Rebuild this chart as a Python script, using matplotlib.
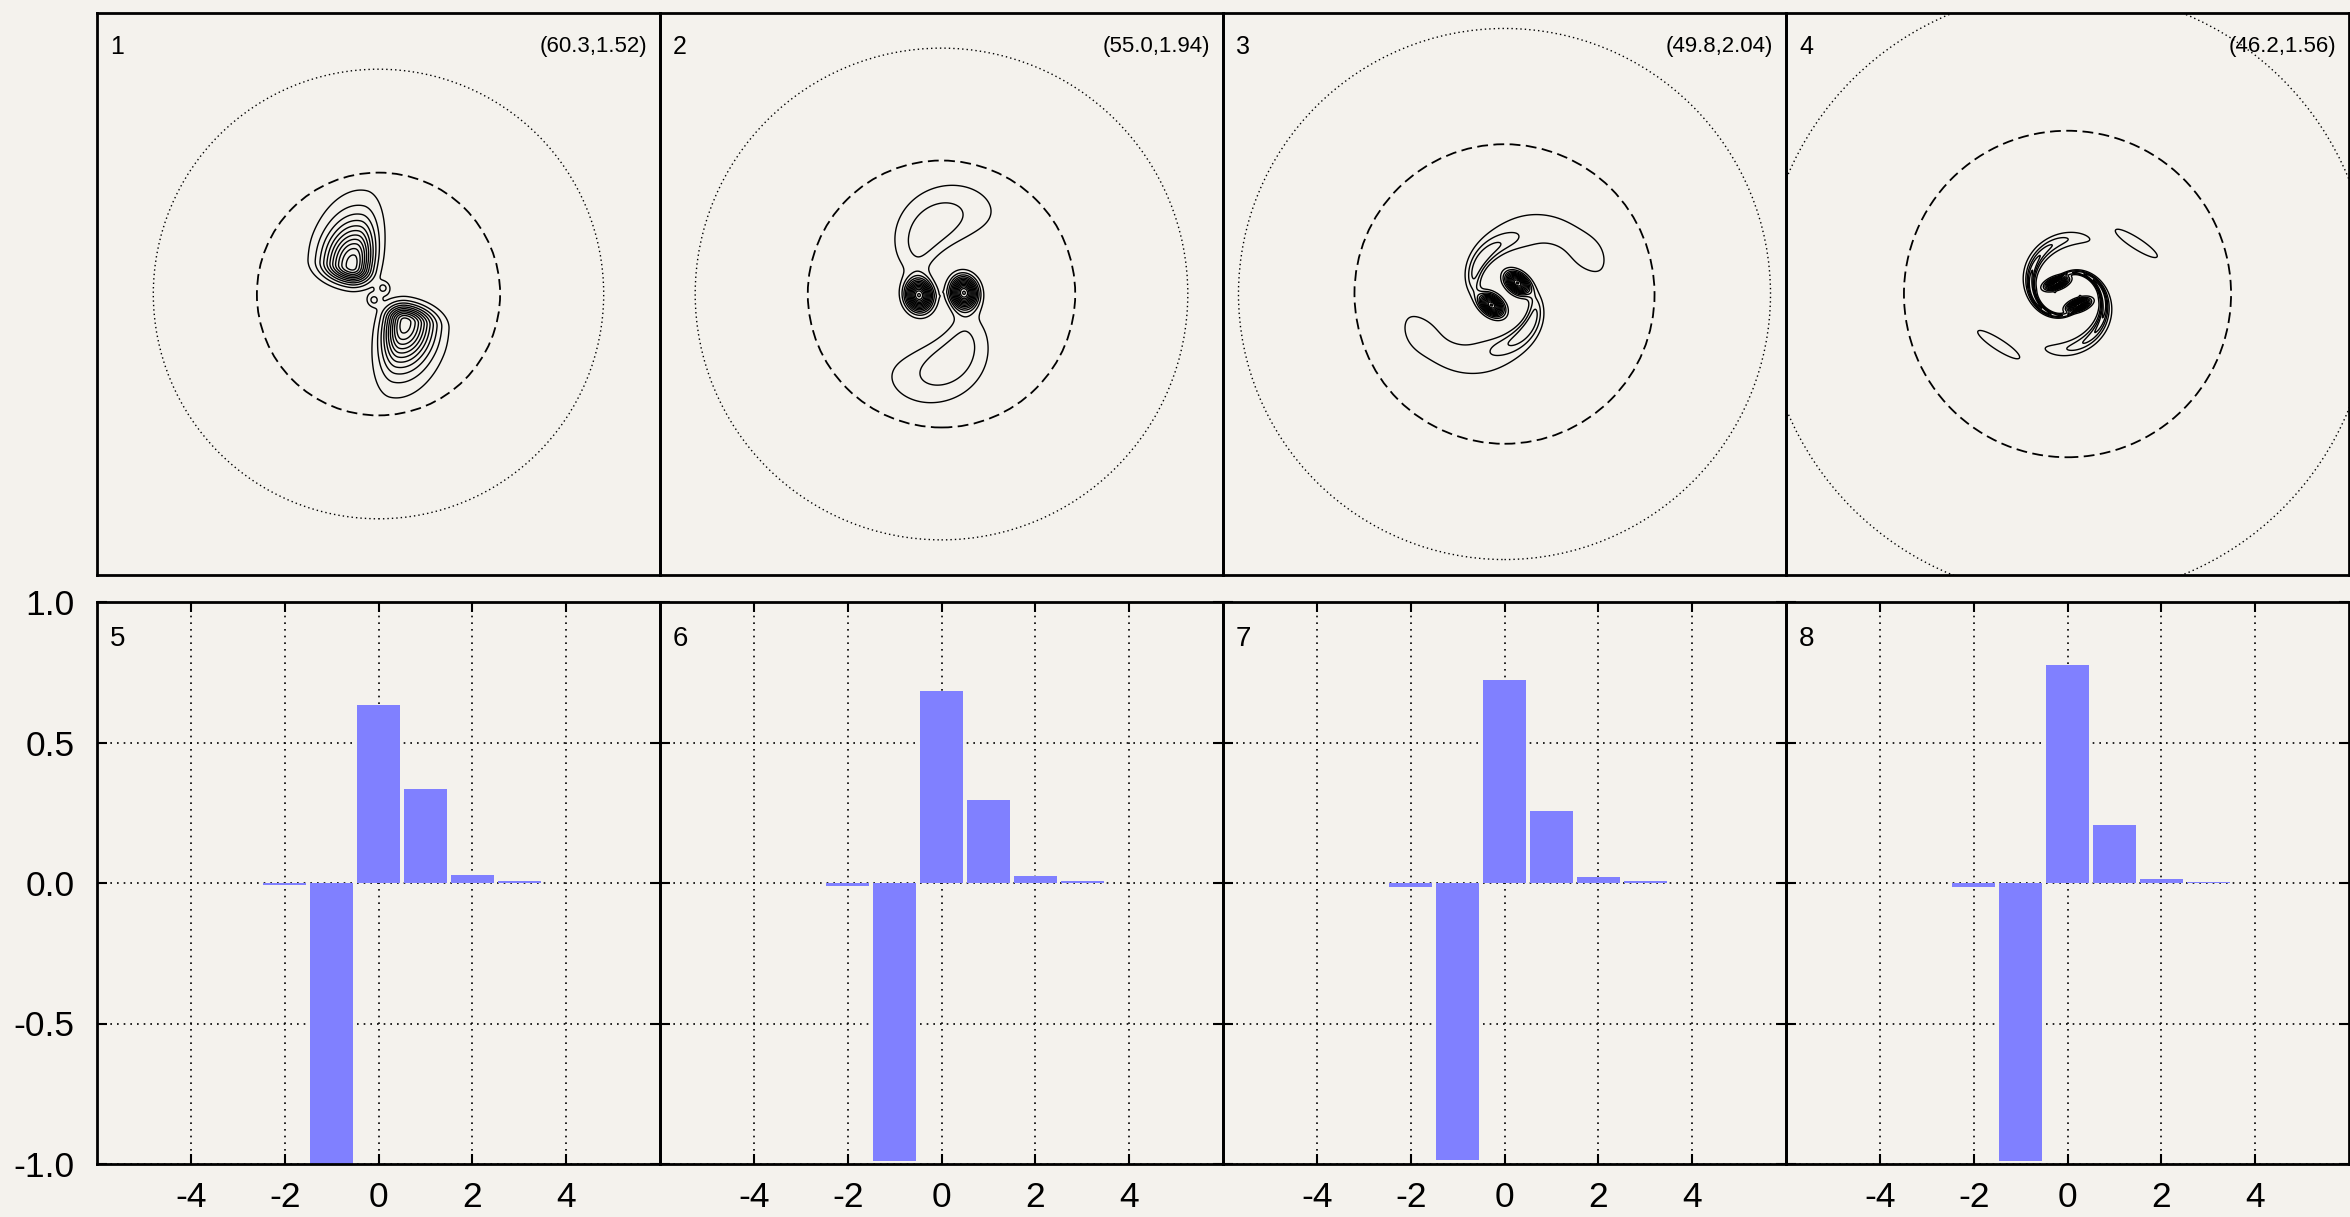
import numpy as np
import matplotlib
matplotlib.use("Agg")
import matplotlib.pyplot as plt
from matplotlib.patches import Circle

plt.rcParams['font.family'] = ['Liberation Sans', 'DejaVu Sans']
plt.rcParams['axes.unicode_minus'] = False

PAPER = '#f4f2ed'
BAR_BLUE = '#8080ff'

# ---- top row: vortex snapshots ----
frame_ids = ['1', '2', '3', '4']
frame_tags = ['(60.3,1.52)', '(55.0,1.94)', '(49.8,2.04)', '(46.2,1.56)']
# circle radii in panel units (panel half-width = 1)
outer_radius = [0.80, 0.875, 0.945, 1.08]
inner_radius = [0.432, 0.475, 0.533, 0.581]

# blobs: amp, x0, y0, s_right, s_left, s_up, s_down, angle(deg)
# every blob and arm also gets a copy rotated by 180 deg
blobs = [
    [(10.5, -0.093, 0.096, 0.045, 0.068, 0.100, 0.038, -10),
     (1.6, -0.090, 0.180, 0.070, 0.100, 0.160, 0.090, -15),
     (2.1, -0.017, -0.021, 0.017, 0.017, 0.017, 0.017, 0)],
    [(14.0, -0.080, -0.005, 0.030, 0.030, 0.036, 0.036, 10)],
    [(13.0, -0.046, -0.039, 0.030, 0.030, 0.020, 0.020, -40),
     (0.7, -0.290, -0.140, 0.045, 0.045, 0.045, 0.045, 0)],
    [(12.0, 0.039, -0.039, 0.026, 0.026, 0.012, 0.012, 20),
     (1.6, -0.245, -0.180, 0.090, 0.090, 0.020, 0.020, -33)],
]
# spiral arms: amp, r0, theta0(deg), sr_in, sr_out, s_theta(deg), winding(deg per e-fold)
arms = [
    [],
    [(2.9, 0.23, 100, 0.090, 0.110, 24, 40)],
    [(3.6, 0.14, 309, 0.030, 0.045, 22, 112),
     (1.7, 0.28, 236, 0.080, 0.075, 22, 112)],
    [(4.5, 0.115, 193, 0.035, 0.035, 11, 166),
     (2.7, 0.170, 123, 0.040, 0.035, 24, 166)],
]
contour_levels = np.arange(1, 16)

# ---- bottom row: mode weights ----
bar_ids = ['5', '6', '7', '8']
modes = [-2, -1, 0, 1, 2, 3]
weights = [
    [-0.008, -1.000, 0.634, 0.336, 0.027, 0.006],
    [-0.009, -0.988, 0.685, 0.294, 0.025, 0.007],
    [-0.013, -0.986, 0.723, 0.256, 0.021, 0.007],
    [-0.014, -0.990, 0.775, 0.207, 0.016, 0.002],
]
x_ticks = [-4, -2, 0, 2, 4]
y_ticks = [-1.0, -0.5, 0.0, 0.5, 1.0]


def half_field(X, Y, blob_list, arm_list):
    Z = np.zeros_like(X)
    for amp, x0, y0, sr, sl, su, sd, ang in blob_list:
        a = np.radians(ang)
        dx = X - x0
        dy = Y - y0
        u = dx * np.cos(a) + dy * np.sin(a)
        v = -dx * np.sin(a) + dy * np.cos(a)
        su_ = np.where(u > 0, sr, sl)
        sv_ = np.where(v > 0, su, sd)
        Z += amp * np.exp(-0.5 * ((u / su_) ** 2 + (v / sv_) ** 2))
    R = np.hypot(X, Y)
    Rs = np.maximum(R, 1e-4)
    T = np.degrees(np.arctan2(Y, X))
    for amp, r0, th0, sr_in, sr_out, sth, wind in arm_list:
        sr = np.where(R < r0, sr_in, sr_out)
        radial = np.exp(-0.5 * ((R - r0) / sr) ** 2)
        tc = th0 - wind * np.log(Rs / r0)
        d = (T - tc + 180) % 360 - 180
        Z += amp * radial * np.exp(-0.5 * (d / sth) ** 2)
    return Z


def panel_field(X, Y, blob_list, arm_list):
    # two-fold symmetric pattern
    return half_field(X, Y, blob_list, arm_list) + half_field(-X, -Y, blob_list, arm_list)


fig = plt.figure(figsize=(23.5, 12.17), dpi=100, facecolor=PAPER)

W = 563 / 2350
H = 562 / 1217
left0 = 97 / 2350
top_bottom = 1 - 575 / 1217
bot_bottom = 1 - 1164 / 1217

g = np.linspace(-0.5, 0.5, 800)
GX, GY = np.meshgrid(g, g)

for i in range(4):
    ax = fig.add_axes([left0 + i * W, top_bottom, W, H])
    ax.set_facecolor('none')
    ax.set_xlim(-1, 1)
    ax.set_ylim(-1, 1)
    ax.set_xticks([])
    ax.set_yticks([])
    for s in ax.spines.values():
        s.set_linewidth(2)

    Z = panel_field(GX, GY, blobs[i], arms[i])
    ax.contour(GX, GY, Z, levels=contour_levels, colors='black', linewidths=1.0)

    ax.add_patch(Circle((0, 0), outer_radius[i], fill=False, color='black',
                        lw=1.0, ls=(0, (1, 2.2))))
    ax.add_patch(Circle((0, 0), inner_radius[i], fill=False, color='black',
                        lw=1.3, ls=(0, (6, 3))))

    ax.text(0.023, 0.94, frame_ids[i], transform=ax.transAxes,
            fontsize=18, ha='left', va='center')
    ax.text(0.977, 0.94, frame_tags[i], transform=ax.transAxes,
            fontsize=16, ha='right', va='center')

for i in range(4):
    ax = fig.add_axes([left0 + i * W, bot_bottom, W, H])
    ax.set_facecolor('none')
    ax.set_axisbelow(True)
    ax.bar(modes, weights[i], width=0.91, color=BAR_BLUE, edgecolor='none', zorder=2)
    ax.set_xlim(-6, 6)
    ax.set_ylim(-1, 1)
    ax.set_xticks(x_ticks)
    ax.set_yticks(y_ticks)
    ax.set_xticklabels([str(v) for v in x_ticks])
    if i == 0:
        ax.set_yticklabels(['%.1f' % v for v in y_ticks])
    else:
        ax.set_yticklabels([])
    ax.grid(True, color='black', lw=1.2, ls=(0, (1, 3)))
    ax.tick_params(direction='in', length=7, width=1.5, top=True, right=True,
                   labelsize=25.5)
    ax.tick_params(axis='y', pad=16)
    ax.tick_params(axis='x', pad=12)
    for s in ax.spines.values():
        s.set_linewidth(2)
    ax.text(0.023, 0.935, bar_ids[i], transform=ax.transAxes,
            fontsize=20, ha='left', va='center')

fig.savefig('out.png', dpi=100, facecolor=PAPER)
